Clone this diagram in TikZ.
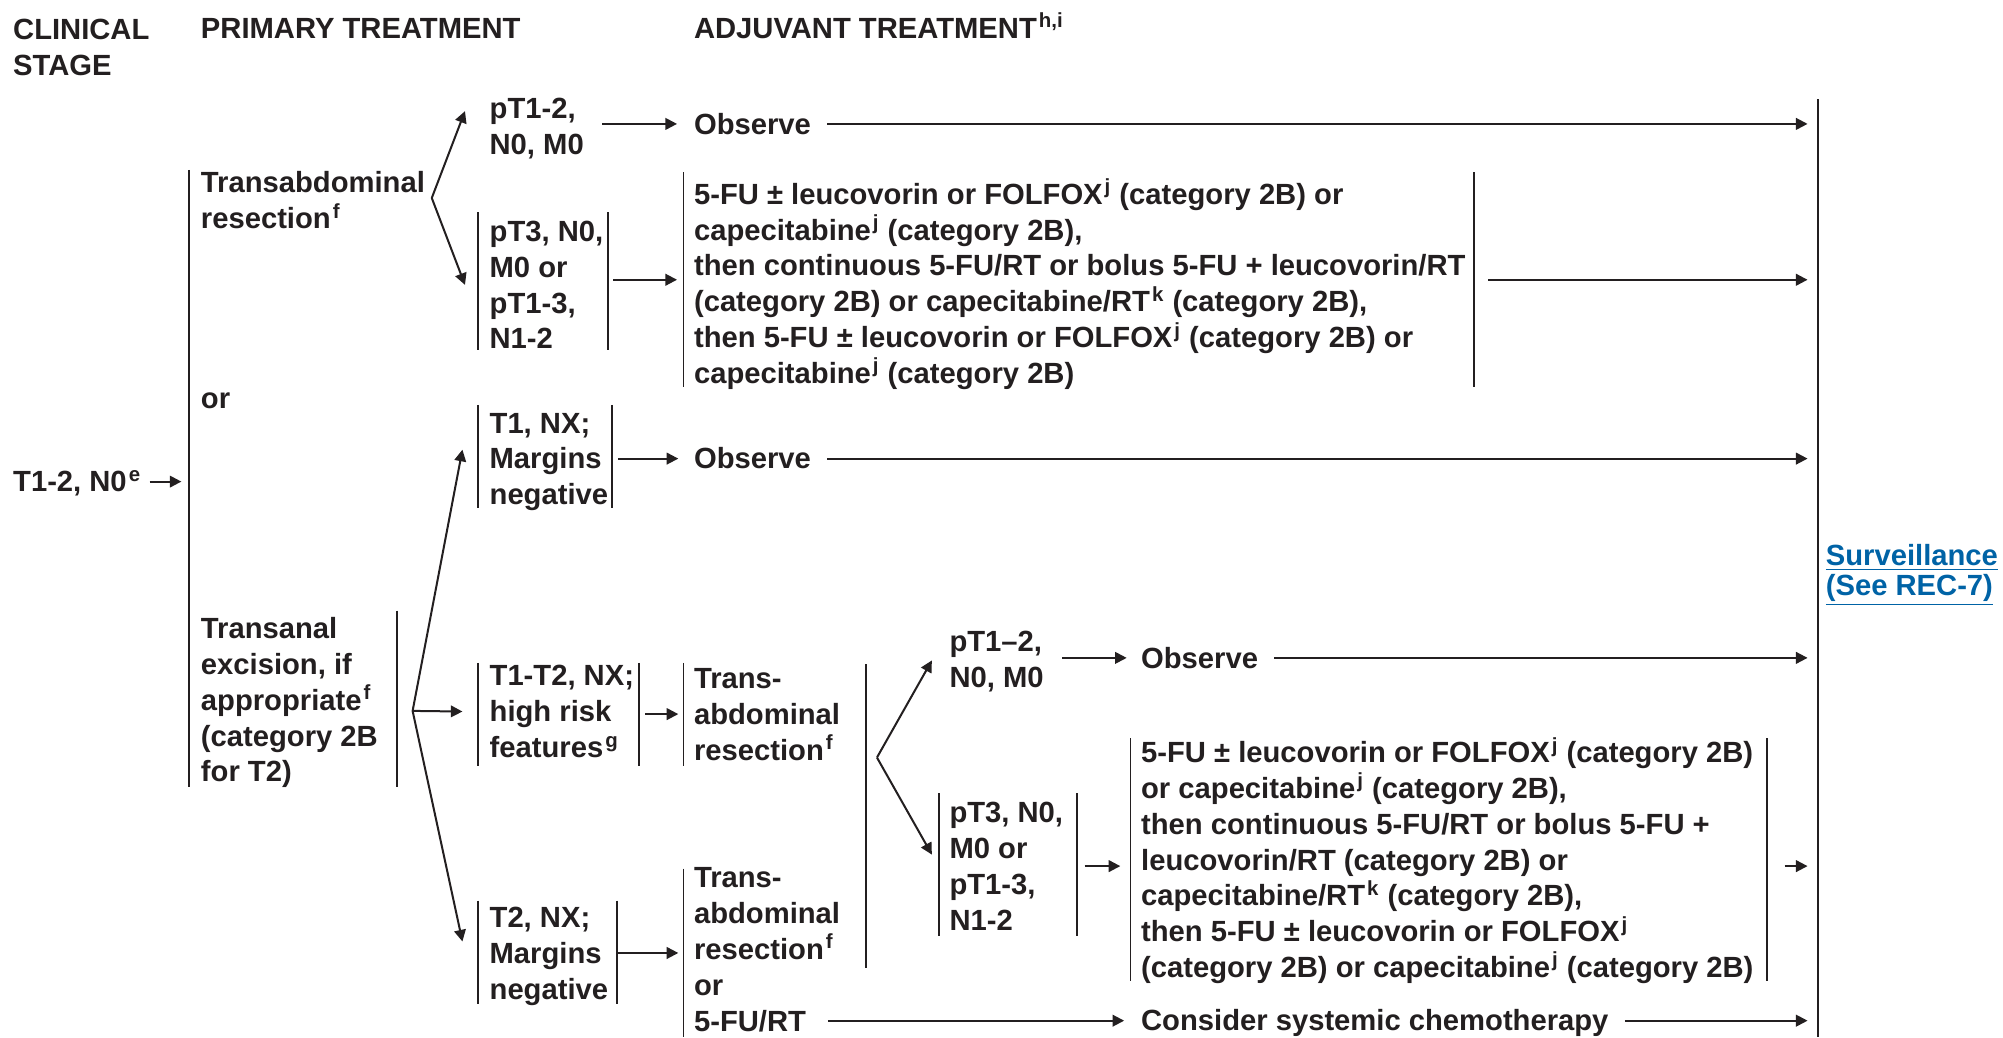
\documentclass[tikz,border=0pt]{standalone}
\usepackage{fontspec}
\setmainfont{Liberation Sans}
\usetikzlibrary{arrows.meta}
\definecolor{ink}{RGB}{35,31,32}
\definecolor{linkblue}{RGB}{0,99,166}
\newcommand\blk[1]{\vtop{\halign{##\hfil\cr #1\crcr}}}
\newcommand\sps[1]{\kern1pt\textsuperscript{#1}}
\begin{document}
\begin{tikzpicture}[x=0.6387pt,y=-0.6387pt,
  txt/.style={inner sep=0pt, anchor=base west, text=ink, font=\bfseries\fontsize{14.6}{17.9}\selectfont},
  bar/.style={draw=ink, line width=0.9pt},
  arr/.style={draw=ink, line width=1pt, -{Triangle[length=5.8pt,width=5.8pt]}},
  link/.style={txt, text=linkblue, font=\bfseries\fontsize{14.6}{14.8}\selectfont}]
\useasboundingbox[fill=white] (0,0) rectangle (1568,812);

% headers
\node[txt] (clin) at (10,31) {\blk{CLINICAL\cr STAGE}};
\node[txt] (prim) at (157,30) {PRIMARY TREATMENT};
\node[txt] (adj) at (543,30) {ADJUVANT TREATMENT\sps{h,i}};

% clinical stage
\node[txt] (stage) at (10,385) {T1-2, N0\sps{e}};
\coordinate (primIn) at (142,377);
\draw[arr, shorten <=4pt] (stage.east |- primIn) -- (primIn);
\draw[bar] (148,133) -- (148,616);

% primary treatment
\node[txt] (tabd) at (157,151) {\blk{Transabdominal\cr resection\sps{f}}};
\node[txt] (or1) at (157,320) {or};
\node[txt] (tanal) at (157,500) {\blk{Transanal\cr excision, if\cr appropriate\sps{f}\cr (category 2B\cr for T2)}};
\draw[bar] (311,478) -- (311,616);

% surveillance
\coordinate (sv) at (1415,0);
\draw[bar, line width=1pt] (1423,77.5) -- (1423,812);
\node[link] (surv) at (1429,443) {\blk{\underline{Surveillance}\cr \underline{(See REC-7)}}};

% transabdominal branch
\coordinate (vA) at (338,155);
\coordinate (aUp) at (364,87);
\coordinate (aDn) at (364,223);
\draw[arr] (vA) -- (aUp);
\draw[arr] (vA) -- (aDn);

\node[txt] (pt12a) at (383,93) {\blk{pT1-2,\cr N0, M0}};
\node[txt] (obs1) at (543,105) {Observe};
\coordinate (obs1In) at (530,97);
\draw[arr, shorten <=9pt] (pt12a.east |- obs1In) -- (obs1In);
\draw[arr, shorten <=8pt] (obs1.east |- obs1In) -- (sv |- obs1In);

\node[txt] (pt3a) at (383,189) {\blk{pT3, N0,\cr M0 or\cr pT1-3,\cr N1-2}};
\draw[bar] (374,166) -- (374,274);
\draw[bar] (476,166) -- (476,274);
\coordinate (pt3aOut) at (480,219);
\coordinate (fuaIn) at (530,219);
\draw[arr] (pt3aOut) -- (fuaIn);

\node[txt] (fua) at (543,160) {\blk{5-FU ± leucovorin or FOLFOX\sps{j} (category 2B) or\cr
capecitabine\sps{j} (category 2B),\cr
then continuous 5-FU/RT or bolus 5-FU + leucovorin/RT\cr
(category 2B) or capecitabine/RT\sps{k} (category 2B),\cr
then 5-FU ± leucovorin or FOLFOX\sps{j} (category 2B) or\cr
capecitabine\sps{j} (category 2B)}};
\draw[bar] (535,135) -- (535,303);
\draw[bar] (1154,135) -- (1154,303);
\coordinate (fuaOut) at (1165,219);
\draw[arr] (fuaOut) -- (sv |- fuaOut);

% transanal branch
\coordinate (vB) at (323,556.5);
\coordinate (bUp) at (362,352);
\coordinate (bMid) at (362,557);
\coordinate (bDn) at (362,737);
\draw[arr] (vB) -- (bUp);
\draw[arr] (vB) -- (bMid);
\draw[arr] (vB) -- (bDn);

\node[txt] (t1) at (383,339) {\blk{T1, NX;\cr Margins\cr negative}};
\draw[bar] (374,317) -- (374,398);
\draw[bar] (479,317) -- (479,398);
\coordinate (t1Out) at (484,359);
\coordinate (obs2In) at (531,359);
\draw[arr] (t1Out) -- (obs2In);
\node[txt] (obs2) at (543,367) {Observe};
\draw[arr, shorten <=8pt] (obs2.east |- obs2In) -- (sv |- obs2In);

\node[txt] (t12) at (383,537) {\blk{T1-T2, NX;\cr high risk\cr features\sps{g}}};
\draw[bar] (374,519) -- (374,600);
\draw[bar] (500,519) -- (500,600);
\coordinate (t12Out) at (505,559);
\coordinate (ta1In) at (531,559);
\draw[arr] (t12Out) -- (ta1In);

\node[txt] (ta1) at (543,539) {\blk{Trans-\cr abdominal\cr resection\sps{f}}};
\draw[bar] (535,519) -- (535,600);
\draw[bar] (678,520) -- (678,758);

\coordinate (vC) at (686.5,593);
\coordinate (cUp) at (729.5,517);
\coordinate (cDn) at (729.5,669);
\draw[arr] (vC) -- (cUp);
\draw[arr] (vC) -- (cDn);

\node[txt] (pt12b) at (743,510) {\blk{pT1--2,\cr N0, M0}};
\coordinate (obs3In) at (882,515);
\draw[arr, shorten <=9pt] (pt12b.east |- obs3In) -- (obs3In);
\node[txt] (obs3) at (893,523) {Observe};
\draw[arr, shorten <=8pt] (obs3.east |- obs3In) -- (sv |- obs3In);

\node[txt] (pt3b) at (743,644) {\blk{pT3, N0,\cr M0 or\cr pT1-3,\cr N1-2}};
\draw[bar] (735,621) -- (735,733);
\draw[bar] (843,621) -- (843,733);
\coordinate (pt3bOut) at (849,678);
\coordinate (fubIn) at (877,678);
\draw[arr] (pt3bOut) -- (fubIn);

\node[txt] (fub) at (893,597) {\blk{5-FU ± leucovorin or FOLFOX\sps{j} (category 2B)\cr
or capecitabine\sps{j} (category 2B),\cr
then continuous 5-FU/RT or bolus 5-FU +\cr
leucovorin/RT (category 2B) or\cr
capecitabine/RT\sps{k} (category 2B),\cr
then 5-FU ± leucovorin or FOLFOX\sps{j}\cr
(category 2B) or capecitabine\sps{j} (category 2B)}};
\draw[bar] (885,578) -- (885,768);
\draw[bar] (1383,578) -- (1383,768);
\coordinate (fubOut) at (1397,678);
\draw[arr] (fubOut) -- (sv |- fubOut);

\node[txt] (t2) at (383,726) {\blk{T2, NX;\cr Margins\cr negative}};
\draw[bar] (374,705) -- (374,786);
\draw[bar] (483,705) -- (483,786);
\coordinate (t2Out) at (484,746);
\coordinate (ta2In) at (531,746);
\draw[arr] (t2Out) -- (ta2In);

\node[txt] (ta2) at (543,695) {\blk{Trans-\cr abdominal\cr resection\sps{f}\cr or\cr 5-FU/RT}};
\draw[bar] (535,680) -- (535,812);
\coordinate (furtOut) at (648,799);
\coordinate (consIn) at (880,799);
\draw[arr] (furtOut) -- (consIn);
\node[txt] (cons) at (893,807) {Consider systemic chemotherapy};
\draw[arr, shorten <=8pt] (cons.east |- consIn) -- (sv |- consIn);
\end{tikzpicture}
\end{document}
